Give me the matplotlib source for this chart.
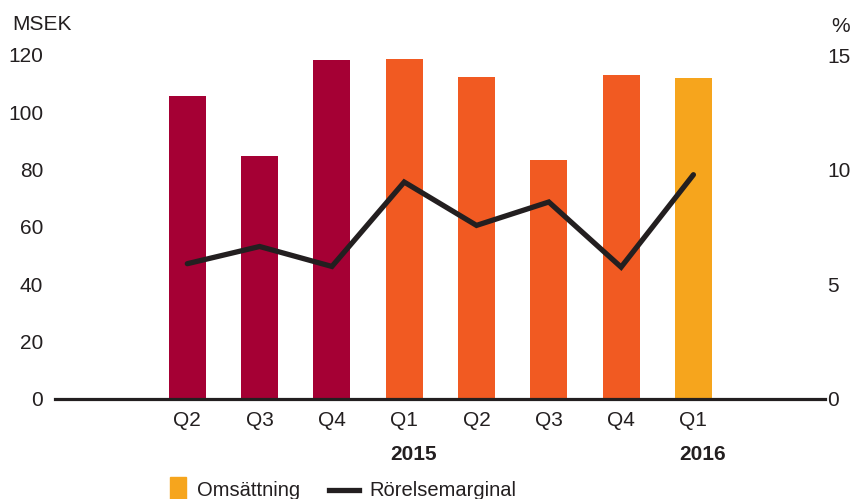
import numpy as np
import matplotlib
matplotlib.use("Agg")
import matplotlib.pyplot as plt
from matplotlib.patches import Rectangle
from matplotlib.lines import Line2D

plt.rcParams['font.family'] = ['Liberation Sans', 'DejaVu Sans']

# data
quarters = ["Q2", "Q3", "Q4", "Q1", "Q2", "Q3", "Q4", "Q1"]
year = [2014, 2014, 2014, 2015, 2015, 2015, 2015, 2016]
omsattning = [105.6, 84.6, 118.2, 118.5, 112.2, 83.2, 112.9, 111.9]   # MSEK
marginal = [5.9, 6.65, 5.78, 9.46, 7.57, 8.59, 5.75, 9.78]            # %
year_labels = {2015: 3, 2016: 7}   # year text under this bar index

year_colors = {2014: "#a50034", 2015: "#f15a22", 2016: "#f6a51d"}
txt = "#231f20"
fs = 15

fig = plt.figure(figsize=(8.53, 4.99), dpi=100)
ax = fig.add_axes([55 / 853, 100 / 499, 770 / 853, 344 / 499])
ax2 = ax.twinx()

x = np.arange(len(quarters))
ax.bar(x, omsattning, width=0.51, color=[year_colors[y] for y in year], zorder=2)
ax2.plot(x, marginal, color=txt, lw=3.8, solid_capstyle="round",
         solid_joinstyle="miter", zorder=3)

ax.set_xlim(-1.83, 8.82)
ax.set_ylim(0, 120)
ax2.set_ylim(0, 15)
ax.set_yticks([0, 20, 40, 60, 80, 100, 120])
ax2.set_yticks([0, 5, 10, 15])
ax.set_xticks(x)
ax.set_xticklabels(quarters)

for a in (ax, ax2):
    for s in a.spines.values():
        s.set_visible(False)
ax.spines["bottom"].set_visible(True)
ax.spines["bottom"].set_color(txt)
ax.spines["bottom"].set_linewidth(2.3)
ax.spines["bottom"].set_zorder(4)

ax.tick_params(axis="y", length=0, pad=8.5, labelsize=fs, labelcolor=txt)
ax2.tick_params(axis="y", length=0, pad=1.5, labelsize=fs, labelcolor=txt)
ax.tick_params(axis="x", length=0, pad=9, labelsize=fs, labelcolor=txt)
ax2.set_zorder(ax.get_zorder() + 1)
ax2.patch.set_visible(False)

for yr, i in year_labels.items():
    ax.text(i + 0.13, -0.16, str(yr), transform=ax.get_xaxis_transform(),
            ha="center", va="center", fontsize=fs, fontweight="bold", color=txt)

fig.text(12 / 853, 1 - 25 / 499, "MSEK", ha="left", va="center", fontsize=fs, color=txt)
fig.text(850 / 853, 1 - 26 / 499, "%", ha="right", va="center", fontsize=fs, color=txt)

# legend
fig.add_artist(Rectangle((170 / 853, 1 - 499 / 499), 16 / 853, 22 / 499,
                         transform=fig.transFigure, color=year_colors[2016]))
fig.text(197 / 853, 1 - 491 / 499, "Omsättning", ha="left", va="center",
         fontsize=14.5, color=txt)
fig.add_artist(Line2D([329 / 853, 359 / 853], [1 - 490 / 499, 1 - 490 / 499],
                      transform=fig.transFigure, color=txt, lw=3.8))
fig.text(369 / 853, 1 - 491 / 499, "Rörelsemarginal", ha="left", va="center",
         fontsize=14.5, color=txt)

fig.savefig("out.png", dpi=100)
